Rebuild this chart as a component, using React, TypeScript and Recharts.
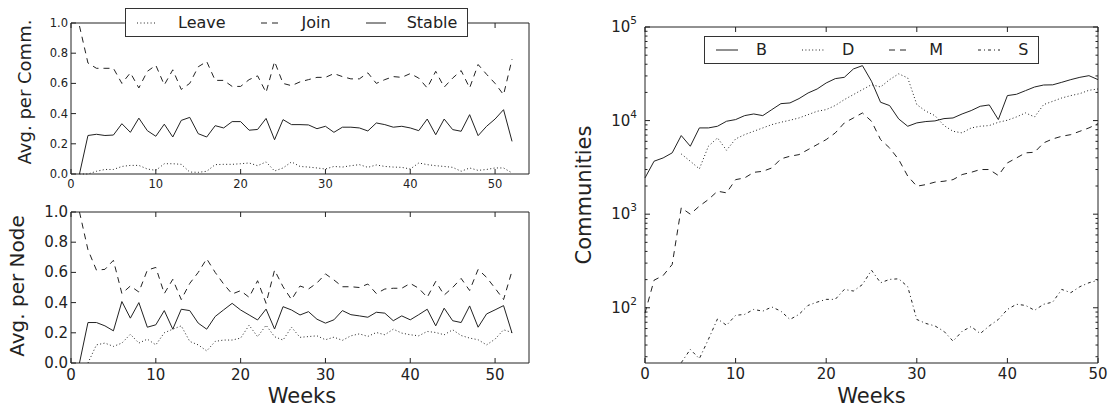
import React from "react";
import { LineChart, Line, XAxis, YAxis, Legend } from "recharts";

// ---- data ----
const leftWeeks = [
  1, 2, 3, 4, 5, 6, 7, 8, 9, 10, 11, 12, 13, 14, 15, 16, 17, 18, 19, 20, 21, 22, 23, 24, 25, 26,
  27, 28, 29, 30, 31, 32, 33, 34, 35, 36, 37, 38, 39, 40, 41, 42, 43, 44, 45, 46, 47, 48, 49, 50, 51, 52,
];
const rightWeeks = [
  0, 1, 2, 3, 4, 5, 6, 7, 8, 9, 10, 11, 12, 13, 14, 15, 16, 17, 18, 19, 20, 21, 22, 23, 24, 25,
  26, 27, 28, 29, 30, 31, 32, 33, 34, 35, 36, 37, 38, 39, 40, 41, 42, 43, 44, 45, 46, 47, 48, 49, 50,
];

const leaveComm = [
  0, 0, 0.018, 0.03, 0.03, 0.05, 0.057, 0.057, 0.033, 0.024, 0.068, 0.068, 0.064, 0.013, 0.011, 0.018,
  0.062, 0.064, 0.064, 0.068, 0.073, 0.055, 0.08, 0.02, 0.04, 0.08, 0.05, 0.046, 0.04, 0.033, 0.05, 0.046,
  0.055, 0.062, 0.044, 0.06, 0.05, 0.046, 0.044, 0.033, 0.073, 0.062, 0.055, 0.05, 0.044, 0.018, 0.04,
  0.024, 0.03, 0.04, 0.04, 0.007,
];
const joinComm = [
  0.98, 0.735, 0.7, 0.7, 0.7, 0.6, 0.67, 0.57, 0.68, 0.72, 0.59, 0.69, 0.56, 0.6, 0.71, 0.745, 0.62, 0.62,
  0.58, 0.58, 0.625, 0.65, 0.54, 0.745, 0.6, 0.585, 0.61, 0.625, 0.64, 0.64, 0.665, 0.645, 0.63, 0.63,
  0.67, 0.6, 0.625, 0.645, 0.64, 0.665, 0.635, 0.57, 0.68, 0.575, 0.635, 0.685, 0.57, 0.725, 0.66, 0.6,
  0.525, 0.76,
];
const stableComm = [
  0, 0.255, 0.263, 0.255, 0.258, 0.333, 0.276, 0.37, 0.287, 0.25, 0.33, 0.245, 0.355, 0.375, 0.267, 0.245,
  0.32, 0.305, 0.347, 0.347, 0.29, 0.295, 0.368, 0.227, 0.36, 0.327, 0.327, 0.325, 0.3, 0.316, 0.276, 0.31,
  0.31, 0.305, 0.285, 0.338, 0.327, 0.31, 0.316, 0.305, 0.287, 0.364, 0.26, 0.364, 0.294, 0.283, 0.393,
  0.254, 0.316, 0.364, 0.426, 0.216,
];

const leaveNode = [
  null, 0, 0.12, 0.132, 0.11, 0.132, 0.19, 0.132, 0.158, 0.12, 0.2, 0.224, 0.246, 0.143, 0.12, 0.08, 0.143,
  0.152, 0.152, 0.165, 0.25, 0.174, 0.25, 0.174, 0.152, 0.237, 0.17, 0.175, 0.18, 0.154, 0.171, 0.15, 0.18,
  0.193, 0.176, 0.202, 0.187, 0.224, 0.198, 0.187, 0.18, 0.209, 0.202, 0.187, 0.22, 0.182, 0.165, 0.154,
  0.12, 0.158, 0.22, 0.202,
];
const joinNode = [
  1.0, 0.75, 0.615, 0.62, 0.68, 0.46, 0.51, 0.47, 0.615, 0.633, 0.46, 0.554, 0.42, 0.527, 0.6, 0.69, 0.6,
  0.523, 0.457, 0.479, 0.435, 0.545, 0.395, 0.615, 0.505, 0.42, 0.51, 0.49, 0.53, 0.59, 0.55, 0.505, 0.505,
  0.5, 0.523, 0.46, 0.49, 0.495, 0.495, 0.527, 0.495, 0.435, 0.54, 0.45, 0.5, 0.56, 0.48, 0.62, 0.567,
  0.495, 0.42, 0.61,
];
const stableNode = [
  0, 0.268, 0.268, 0.246, 0.213, 0.407, 0.297, 0.4, 0.237, 0.253, 0.347, 0.224, 0.356, 0.347, 0.264, 0.224,
  0.308, 0.352, 0.395, 0.351, 0.318, 0.285, 0.357, 0.225, 0.373, 0.351, 0.318, 0.34, 0.29, 0.264, 0.286,
  0.347, 0.32, 0.312, 0.303, 0.336, 0.33, 0.28, 0.312, 0.286, 0.32, 0.356, 0.246, 0.363, 0.28, 0.268, 0.378,
  0.237, 0.325, 0.352, 0.38, 0.198,
];

const commB = [
  2440, 3680, 3990, 4520, 6920, 5320, 8350, 8350, 8700, 9840, 10250, 11300, 11770, 11300, 13100, 15170,
  15440, 17180, 19730, 21760, 25240, 28070, 29000, 35600, 38660, 26300, 15700, 14470, 10420, 8700, 9450,
  9770, 9920, 10500, 10670, 11770, 12790, 14220, 14700, 10250, 18500, 19100, 20900, 22860, 24000, 24100,
  25650, 27400, 29000, 30200, 27400,
];
const commD = [
  null, null, null, null, 4400, 3680, 3050, 5320, 6530, 4820, 6370, 7080, 7690, 8350, 9060, 9600, 10090,
  10670, 11580, 12580, 13100, 14500, 16750, 18960, 21430, 24200, 22860, 27400, 31600, 28570, 14820, 12600,
  11300, 8850, 7690, 7390, 8350, 8700, 8850, 9600, 10090, 10940, 12080, 10940, 14820, 16070, 17450, 18500,
  19420, 21080, 21770,
];
const commM = [
  88, 197, 221, 290, 1170, 1000, 1220, 1435, 1760, 1690, 2340, 2440, 2800, 2870, 3120, 3900, 4160, 4330,
  4900, 5540, 6270, 7380, 9440, 10670, 12070, 9840, 6270, 5100, 3840, 2550, 1990, 2070, 2200, 2250, 2340,
  2650, 2800, 3000, 3000, 2590, 3530, 3990, 4520, 4590, 5780, 6370, 6800, 7080, 7690, 8350, 9290,
];
const commS = [
  null, null, null, null, 25.9, 35.9, 28.6, 46, 76, 65, 83, 85, 96, 92, 102, 92, 75, 85, 106, 115, 123, 123,
  157, 151, 177, 252, 185, 201, 204, 168, 75, 68, 64, 56, 44, 56, 63, 53, 64, 75, 96, 109, 106, 94, 109, 115,
  157, 145, 168, 185, 197,
];

const fracTicks = [0, 0.2, 0.4, 0.6, 0.8, 1.0];
const leftWeekTicks = [0, 10, 20, 30, 40, 50];
const rightWeekTicks = [0, 10, 20, 30, 40, 50];
const logTicks = [
  30, 40, 50, 60, 70, 80, 90, 100, 200, 300, 400, 500, 600, 700, 800, 900, 1000, 2000, 3000, 4000, 5000,
  6000, 7000, 8000, 9000, 10000, 20000, 30000, 40000, 50000, 60000, 70000, 80000, 90000, 100000,
];

const commRows = leftWeeks.map((w, i) => ({ week: w, leave: leaveComm[i], join: joinComm[i], stable: stableComm[i] }));
const nodeRows = leftWeeks.map((w, i) => ({ week: w, leave: leaveNode[i], join: joinNode[i], stable: stableNode[i] }));
const typeRows = rightWeeks.map((w, i) => ({ week: w, B: commB[i], D: commD[i], M: commM[i], S: commS[i] }));

// ---- styling ----
const FONT = "'DejaVu Sans', sans-serif";
const INK = "#222";
const DOT = "1 2.4";
const DASH = "6 5";
const DASHDOT = "3 3 1 3";

const leftSeries = [
  { key: "leave", name: "Leave", dash: DOT },
  { key: "join", name: "Join", dash: DASH },
  { key: "stable", name: "Stable", dash: undefined },
];
const rightSeries = [
  { key: "B", name: "B", dash: undefined },
  { key: "D", name: "D", dash: DOT },
  { key: "M", name: "M", dash: DASH },
  { key: "S", name: "S", dash: DASHDOT },
];

type Side = "left" | "right" | "top" | "bottom";

const isPow10 = (v: number) => Math.abs(Math.log10(v) - Math.round(Math.log10(v))) < 1e-9;

// ticks point inwards, matplotlib-style
function tickRenderer(side: Side, opts: { fontSize?: number; gap?: number; format?: (v: number) => React.ReactNode; minor?: (v: number) => boolean } = {}) {
  return (p: any) => {
    const { x, y, payload } = p;
    const v = payload.value as number;
    const len = opts.minor && opts.minor(v) ? 2.5 : 5;
    let x2 = x, y2 = y;
    if (side === "left") x2 = x + len;
    if (side === "right") x2 = x - len;
    if (side === "bottom") y2 = y - len;
    if (side === "top") y2 = y + len;
    const label = opts.format ? opts.format(v) : null;
    const gap = opts.gap ?? 4;
    return (
      <g>
        <line x1={x} y1={y} x2={x2} y2={y2} stroke={INK} strokeWidth={1} />
        {label != null && side === "left" && (
          <text x={x - gap} y={y} textAnchor="end" dominantBaseline="central" fontSize={opts.fontSize} fontFamily={FONT} fill={INK}>
            {label}
          </text>
        )}
        {label != null && side === "bottom" && (
          <text x={x} y={y + gap} textAnchor="middle" dominantBaseline="central" fontSize={opts.fontSize} fontFamily={FONT} fill={INK}>
            {label}
          </text>
        )}
      </g>
    );
  };
}

const AxisTitle = (props: any) => {
  const { viewBox, text, dx = 0, dy = 0, vertical, size } = props;
  const { x, y, width, height } = viewBox;
  if (vertical) {
    const cx = x + dx;
    const cy = y + height / 2 + dy;
    return (
      <text x={cx} y={cy} transform={`rotate(-90 ${cx} ${cy})`} textAnchor="middle" fontSize={size} fontFamily={FONT} fill={INK}>
        {text}
      </text>
    );
  }
  return (
    <text x={x + width / 2 + dx} y={y + dy} textAnchor="middle" fontSize={size} fontFamily={FONT} fill={INK}>
      {text}
    </text>
  );
};

const LegendBox = ({ items, sampleW, gap, itemGap, fontSize }: any) => (
  <div
    style={{
      display: "flex",
      alignItems: "center",
      height: "100%",
      boxSizing: "border-box",
      border: "1px solid #333",
      background: "#fff",
      paddingLeft: 11,
    }}
  >
    {items.map((it: any, i: number) => (
      <div key={it.key} style={{ display: "flex", alignItems: "center", marginRight: i < items.length - 1 ? itemGap : 0 }}>
        <svg width={sampleW} height={10} style={{ display: "block" }}>
          <line x1={0} y1={5} x2={sampleW} y2={5} stroke={INK} strokeWidth={1} strokeDasharray={it.dash} />
        </svg>
        <span style={{ marginLeft: gap, fontSize, fontFamily: FONT, color: INK, lineHeight: 1 }}>{it.name}</span>
      </div>
    ))}
  </div>
);

const frac = (v: number) => v.toFixed(1);
const plain = (v: number) => String(v);
const pow10 = (v: number) =>
  isPow10(v) ? (
    <>
      <tspan>10</tspan>
      <tspan dy={-7} fontSize={10.5}>
        {Math.round(Math.log10(v))}
      </tspan>
    </>
  ) : null;

// mirrored top / right axes close the frame and carry inward ticks
function FracPanel({ rows, height, marginTop, xAxisHeight, tickFont, xGap, title, titleSize, titleDx, titleDy, weeks, legend }: any) {
  return (
    <LineChart width={560} height={height} data={rows} margin={{ top: marginTop - 1, right: 30, bottom: 0, left: 0 }}>
      <XAxis
        dataKey="week"
        type="number"
        domain={[0, 54]}
        ticks={leftWeekTicks}
        interval={0}
        height={xAxisHeight}
        tickSize={0}
        tickMargin={0}
        tickLine={false}
        stroke={INK}
        tick={tickRenderer("bottom", { fontSize: tickFont, gap: xGap, format: plain })}
        label={weeks ? <AxisTitle text="Weeks" size={21} dx={2} dy={40} /> : undefined}
      />
      <XAxis
        xAxisId="top"
        orientation="top"
        dataKey="week"
        type="number"
        domain={[0, 54]}
        ticks={leftWeekTicks}
        interval={0}
        height={1}
        tickSize={0}
        tickMargin={0}
        tickLine={false}
        stroke={INK}
        tick={tickRenderer("top")}
      />
      <YAxis
        type="number"
        domain={[0, 1]}
        ticks={fracTicks}
        interval={0}
        width={71}
        tickSize={0}
        tickMargin={0}
        tickLine={false}
        stroke={INK}
        tick={tickRenderer("left", { fontSize: tickFont, gap: 3, format: frac })}
        label={<AxisTitle text={title} vertical size={titleSize} dx={titleDx} dy={titleDy} />}
      />
      <YAxis
        yAxisId="right"
        orientation="right"
        type="number"
        domain={[0, 1]}
        ticks={fracTicks}
        interval={0}
        width={1}
        tickSize={0}
        tickMargin={0}
        tickLine={false}
        stroke={INK}
        tick={tickRenderer("right")}
      />
      {leftSeries.map((s) => (
        <Line
          key={s.key}
          type="linear"
          dataKey={s.key}
          name={s.name}
          stroke={INK}
          strokeWidth={1}
          strokeDasharray={s.dash}
          dot={false}
          isAnimationActive={false}
        />
      ))}
      {legend && (
        <Legend
          layout="vertical"
          align="center"
          verticalAlign="middle"
          wrapperStyle={{ top: 8, left: 125, width: 343, height: 29 }}
          content={() => <LegendBox items={leftSeries} sampleW={20} gap={21} itemGap={35} fontSize={16} />}
        />
      )}
    </LineChart>
  );
}

function TypePanel() {
  const minor = (v: number) => !isPow10(v);
  return (
    <LineChart width={551} height={408} data={typeRows} margin={{ top: 26, right: 12, bottom: 0, left: 0 }}>
      <XAxis
        dataKey="week"
        type="number"
        domain={[0, 50]}
        ticks={rightWeekTicks}
        interval={0}
        height={45}
        tickSize={0}
        tickMargin={0}
        tickLine={false}
        stroke={INK}
        tick={tickRenderer("bottom", { fontSize: 15, gap: 11, format: plain })}
        label={<AxisTitle text="Weeks" size={21} dx={0} dy={40} />}
      />
      <XAxis
        xAxisId="top"
        orientation="top"
        dataKey="week"
        type="number"
        domain={[0, 50]}
        ticks={rightWeekTicks}
        interval={0}
        height={1}
        tickSize={0}
        tickMargin={0}
        tickLine={false}
        stroke={INK}
        tick={tickRenderer("top")}
      />
      <YAxis
        type="number"
        scale="log"
        domain={[25.7, 100000]}
        allowDataOverflow
        ticks={logTicks}
        interval={0}
        width={85}
        tickSize={0}
        tickMargin={0}
        tickLine={false}
        stroke={INK}
        tick={tickRenderer("left", { fontSize: 15, gap: 8, format: pow10, minor })}
        label={<AxisTitle text="Communities" vertical size={21} dx={31} dy={0} />}
      />
      <YAxis
        yAxisId="right"
        orientation="right"
        type="number"
        scale="log"
        domain={[25.7, 100000]}
        allowDataOverflow
        ticks={logTicks}
        interval={0}
        width={1}
        tickSize={0}
        tickMargin={0}
        tickLine={false}
        stroke={INK}
        tick={tickRenderer("right", { minor })}
      />
      {rightSeries.map((s) => (
        <Line
          key={s.key}
          type="linear"
          dataKey={s.key}
          name={s.name}
          stroke={INK}
          strokeWidth={1}
          strokeDasharray={s.dash}
          dot={false}
          isAnimationActive={false}
        />
      ))}
      <Legend
        layout="vertical"
        align="center"
        verticalAlign="middle"
        wrapperStyle={{ top: 36, left: 144, width: 335, height: 28 }}
        content={() => <LegendBox items={rightSeries} sampleW={22} gap={18} itemGap={35} fontSize={16} />}
      />
    </LineChart>
  );
}

export default function App() {
  return (
    <div style={{ position: "absolute", left: 0, top: 0, width: 1111, height: 408, background: "#fff", overflow: "hidden" }}>
      <div style={{ position: "absolute", left: 0, top: 0 }}>
        <FracPanel
          rows={commRows}
          height={200}
          marginTop={23}
          xAxisHeight={26}
          tickFont={11.5}
          xGap={10}
          title="Avg. per Comm."
          titleSize={18}
          titleDx={31}
          titleDy={-6.5}
          legend
        />
      </div>
      <div style={{ position: "absolute", left: 0, top: 190 }}>
        <FracPanel
          rows={nodeRows}
          height={218}
          marginTop={22}
          xAxisHeight={45}
          tickFont={15}
          xGap={12}
          title="Avg. per Node"
          titleSize={20}
          titleDx={24}
          titleDy={-1.5}
          weeks
        />
      </div>
      <div style={{ position: "absolute", left: 560, top: 0 }}>
        <TypePanel />
      </div>
    </div>
  );
}
